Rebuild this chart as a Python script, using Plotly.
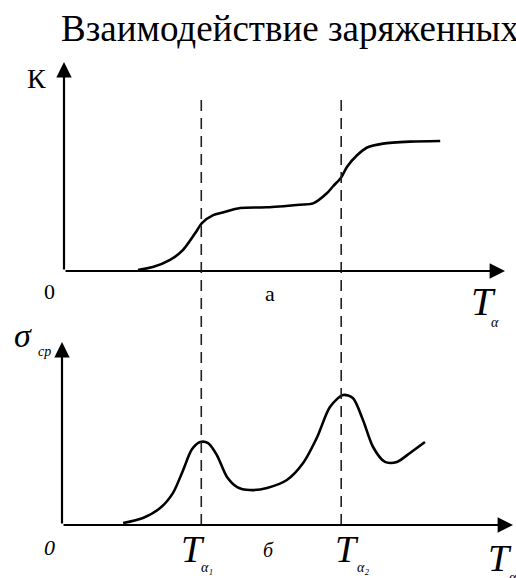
import plotly.graph_objects as go

# --- dados (unidades arbitrárias) ---
# a) coeficiente K em função de T_alpha
t_k = [1.68, 2.02, 2.41, 2.70, 2.98, 3.14, 3.39, 3.61, 4.0, 4.61, 5.36, 5.66, 5.98, 6.11, 6.30,
       6.43, 6.66, 6.89, 7.25, 7.86, 8.55]
k_vals = [0.008, 0.03, 0.085, 0.16, 0.29, 0.37, 0.43, 0.45, 0.485, 0.49, 0.51, 0.52, 0.60, 0.65, 0.72,
          0.80, 0.89, 0.95, 0.98, 0.995, 1.0]

# б) sigma_ср em função de T_alpha
t_sig = [1.39, 1.84, 2.23, 2.52, 2.75, 2.95, 3.14, 3.32, 3.52, 3.75, 3.98, 4.27, 4.66, 5.11, 5.48,
         5.80, 6.09, 6.39, 6.61, 6.84, 7.07, 7.34, 7.61, 7.91, 8.25]
sig_vals = [0.015, 0.054, 0.13, 0.245, 0.42, 0.58, 0.638, 0.63, 0.538, 0.369, 0.292, 0.269, 0.285,
            0.346, 0.477, 0.677, 0.908, 1.0, 0.977, 0.808, 0.60, 0.485, 0.485, 0.554, 0.638]

# temperaturas características
t_alpha = [3.12, 6.3]

W, H = 516, 578
FONT = "Liberation Serif, Times New Roman, serif"
X_MAX = (W - 64) / 44
X2_MAX = (W - 62) / 44


def px(x):
    return x / W


def py(y):
    return 1 - y / H


fig = go.Figure()

fig.add_trace(go.Scatter(x=t_k, y=k_vals, mode="lines", xaxis="x", yaxis="y",
                         line=dict(color="black", width=2.6, shape="spline", smoothing=0.8)))
fig.add_trace(go.Scatter(x=t_sig, y=sig_vals, mode="lines", xaxis="x2", yaxis="y2",
                         line=dict(color="black", width=2.6, shape="spline", smoothing=0.8)))

# linhas tracejadas verticais em T_alpha1 e T_alpha2
for t in t_alpha:
    fig.add_shape(type="line", xref="x", yref="paper", x0=t, x1=t, y0=py(525), y1=py(100),
                  line=dict(color="#222", width=1.6, dash="11px,7px"))

# eixos com setas
arrows = [
    ("x", "y", (505 - 64) / 44, 0, 0, 0),       # eixo T (a)
    ("x", "y", 0, (271 - 62) / 130, 0, 0),      # eixo K
    ("x2", "y2", (513 - 62) / 44, 0, 0, 0),     # eixo T (б)
    ("x2", "y2", 0, (525 - 342) / 130, 0, 0),   # eixo sigma
]
for xr, yr, xh, yh, xt, yt in arrows:
    fig.add_annotation(xref=xr, yref=yr, axref=xr, ayref=yr, x=xh, y=yh, ax=xt, ay=yt,
                       text="", showarrow=True, arrowhead=2, arrowsize=1.4, arrowwidth=2.2,
                       arrowcolor="black")

# textos: (texto, x centro, y centro, tamanho, itálico)
labels = [
    ("К", 36, 78, 28, False),
    ("0", 49, 291, 22, False),
    ("а", 270, 293, 22, False),
    ("T", 483, 301, 40, True),
    ("α", 495, 322, 14, True),
    ("σ", 23, 335, 34, True),
    ("ср", 44, 351, 14, True),
    ("0", 49, 547, 22, True),
    ("T", 193, 549, 38, True),
    ("α₁", 207, 567, 14, True),
    ("б", 268, 550, 20, True),
    ("T", 347, 549, 38, True),
    ("α₂", 363, 567, 14, True),
    ("T", 500, 558, 38, True),
    ("α", 513, 577, 14, True),
]
for txt, x, y, size, ital in labels:
    fig.add_annotation(xref="paper", yref="paper", x=px(x), y=py(y), xanchor="center", yanchor="middle",
                       text=f"<i>{txt}</i>" if ital else txt, showarrow=False,
                       font=dict(family=FONT, size=size, color="black"))

fig.add_annotation(xref="paper", yref="paper", x=px(59), y=py(29), xanchor="left", yanchor="middle",
                   text="Взаимодействие заряженных", showarrow=False,
                   font=dict(family=FONT, size=37, color="black"))

axis_off = dict(visible=False, showgrid=False, zeroline=False)
fig.update_layout(
    width=W, height=H,
    margin=dict(l=0, r=0, t=0, b=0),
    paper_bgcolor="white", plot_bgcolor="white",
    showlegend=False,
    xaxis=dict(domain=[px(64), 1], range=[0, X_MAX], anchor="y", **axis_off),
    yaxis=dict(domain=[py(271), py(55)], range=[0, (271 - 55) / 130], anchor="x", **axis_off),
    xaxis2=dict(domain=[px(62), 1], range=[0, X2_MAX], anchor="y2", **axis_off),
    yaxis2=dict(domain=[py(525), py(335)], range=[0, (525 - 335) / 130], anchor="x2", **axis_off),
)

fig.write_html("out.html", config={"displayModeBar": False},
               post_script="document.body.style.margin='0';")
